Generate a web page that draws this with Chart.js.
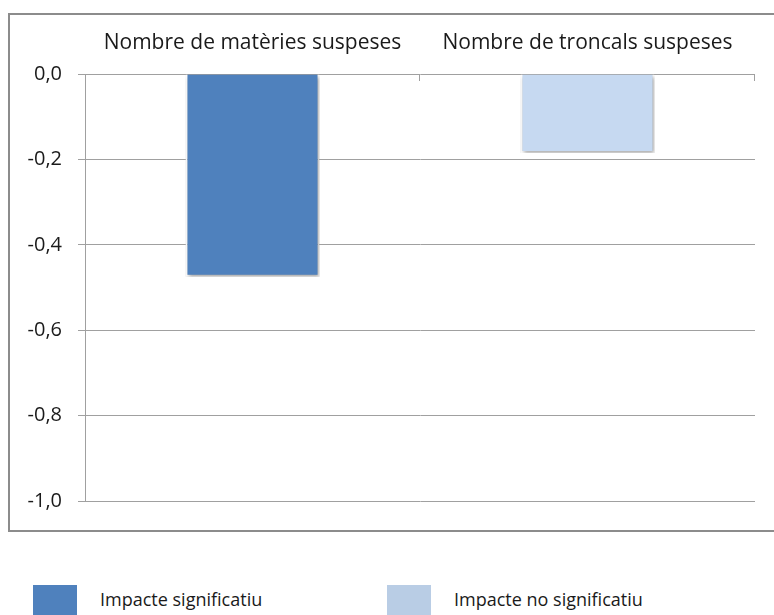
<!DOCTYPE html>
<html>
<head>
<meta charset="utf-8">
<script src="https://cdn.jsdelivr.net/npm/chart.js@4"></script>
<style>
    body { margin: 0; background: #fff; font-family: "Open Sans", sans-serif; }
    #wrap { position: relative; width: 774px; height: 615px; overflow: hidden; }
    #frame {
        position: absolute; left: 8px; top: 13px; width: 800px; height: 519px;
        border: 2px solid #8c8c8c; box-sizing: border-box;
    }
    #chart { position: absolute; left: 0; top: 0; }
    .legend-item { position: absolute; top: 585px; height: 30px; }
    .legend-item .swatch { position: absolute; left: 0; top: 0; width: 44px; height: 30px; }
    .legend-item .text {
        position: absolute; left: 67px; top: 2px; white-space: nowrap;
        font-size: 18px; color: #1a1a1a;
    }
</style>
</head>
<body>
<div id="wrap">
    <div id="frame"></div>
    <canvas id="chart" width="774" height="540"></canvas>
    <div id="legend"></div>
</div>
<script>
    const categories = ['Nombre de matèries suspeses', 'Nombre de troncals suspeses'];
    const impactValues = [-0.475, -0.185];
    const barColors = ['#4F81BD', '#C6D9F1'];

    const legendLabels = ['Impacte significatiu', 'Impacte no significatiu'];
    const legendColors = ['#4F81BD', '#B9CDE5'];
    const legendLeft = [33, 387];

    const yTicks = [0, -0.2, -0.4, -0.6, -0.8, -1.0];

    const textColor = '#1a1a1a';
    const lineColor = '#a0a0a0';

    // soft drop shadow under the bars
    const barShadow = {
        id: 'barShadow',
        beforeDatasetsDraw(chart) {
            const ctx = chart.ctx;
            ctx.save();
            ctx.shadowColor = 'rgba(0, 0, 0, 0.35)';
            ctx.shadowBlur = 4;
            ctx.shadowOffsetX = 1;
            ctx.shadowOffsetY = 2;
        },
        afterDatasetsDraw(chart) {
            chart.ctx.restore();
        }
    };

    // small tick marks on the zero line, between the categories
    const categoryTicks = {
        id: 'categoryTicks',
        afterDraw(chart) {
            const x = chart.scales.x;
            const top = chart.chartArea.top;
            const step = (x.right - x.left) / categories.length;
            const ctx = chart.ctx;
            ctx.save();
            ctx.strokeStyle = lineColor;
            ctx.lineWidth = 1;
            for (let i = 1; i <= categories.length; i++) {
                const px = Math.round(x.left + i * step) - 0.5;
                ctx.beginPath();
                ctx.moveTo(px, top);
                ctx.lineTo(px, top + 7);
                ctx.stroke();
            }
            ctx.restore();
        }
    };

    const ctx = document.getElementById('chart').getContext('2d');
    const chart = new Chart(ctx, {
        type: 'bar',
        data: {
            labels: categories,
            datasets: [{
                data: impactValues,
                backgroundColor: barColors,
                borderColor: '#ffffff',
                borderWidth: 2,
                categoryPercentage: 1,
                barPercentage: 0.4
            }]
        },
        options: {
            responsive: false,
            animation: false,
            layout: {
                padding: { left: 0, right: 19, top: 0, bottom: 39 }
            },
            plugins: {
                legend: { display: false },
                tooltip: { enabled: false }
            },
            scales: {
                x: {
                    position: 'top',
                    grid: { display: false, drawTicks: false },
                    border: { display: false },
                    ticks: {
                        color: textColor,
                        padding: 18,
                        font: { family: 'Open Sans', size: 21 }
                    },
                    afterFit(scale) { scale.height = 74; }
                },
                y: {
                    min: -1,
                    max: 0,
                    afterBuildTicks(scale) {
                        scale.ticks = yTicks.map(v => ({ value: v }));
                    },
                    grid: { color: lineColor, tickLength: 7 },
                    border: { display: true, color: lineColor },
                    ticks: {
                        color: textColor,
                        padding: 16,
                        font: { family: 'Open Sans', size: 20 },
                        callback: v => v.toFixed(1).replace('.', ',')
                    },
                    afterFit(scale) { scale.width = 85; }
                }
            }
        },
        plugins: [barShadow, categoryTicks]
    });

    // legend below the framed chart
    const legend = document.getElementById('legend');
    legendLabels.forEach((label, i) => {
        const item = document.createElement('div');
        item.className = 'legend-item';
        item.style.left = legendLeft[i] + 'px';
        item.innerHTML = '<div class="swatch" style="background:' + legendColors[i] + '"></div>' +
            '<div class="text">' + label + '</div>';
        legend.appendChild(item);
    });
</script>
</body>
</html>
